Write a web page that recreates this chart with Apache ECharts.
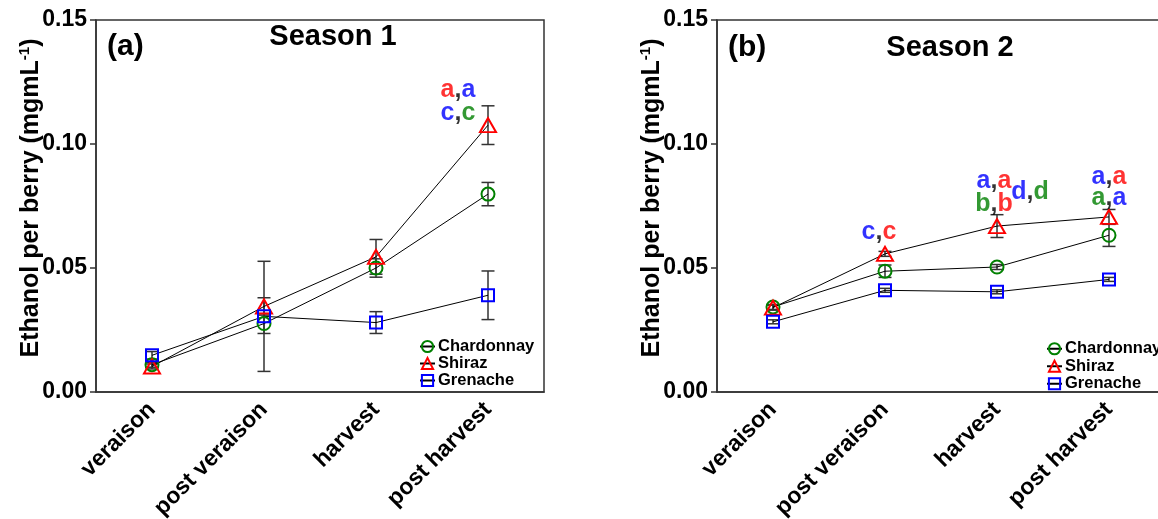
<!DOCTYPE html>
<html lang="en">
<head>
<meta charset="UTF-8">
<script src="https://cdn.jsdelivr.net/npm/echarts@6/dist/echarts.min.js"></script>
<style>
  html, body { margin: 0; padding: 0; background: #fff; }
  #chart { width: 1158px; height: 519px; }
</style>
</head>
<body>
<div id="chart"></div>
<script>
// ---- data ----
const stages = ['veraison', 'post veraison', 'harvest', 'post harvest'];
const varieties = ['Chardonnay', 'Shiraz', 'Grenache'];
const yTicks = [0, 0.05, 0.10, 0.15];

// Season 1 means and error bars (mg/mL)
const s1Chardonnay = [0.0110, 0.0276, 0.0500, 0.0798];
const s1Shiraz = [0.0103, 0.0345, 0.0545, 0.1076];
const s1Grenache = [0.0148, 0.0305, 0.0280, 0.0390];
const s1ChardonnayErr = [0.0010, 0.0040, 0.0037, 0.0047];
const s1ShirazErr = [0.0010, 0.0035, 0.0070, 0.0078];
const s1GrenacheErr = [0.0015, 0.0222, 0.0044, 0.0098];

// Season 2
const s2Chardonnay = [0.0343, 0.0487, 0.0504, 0.0632];
const s2Shiraz = [0.0340, 0.0557, 0.0669, 0.0706];
const s2Grenache = [0.0283, 0.0410, 0.0404, 0.0454];
const s2ChardonnayErr = [0.0010, 0.0025, 0.0010, 0.0045];
const s2ShirazErr = [0.0010, 0.0010, 0.0046, 0.0030];
const s2GrenacheErr = [0.0008, 0.0008, 0.0008, 0.0008];

// significance letters: stage, level, letters, colour keys
const s1NoteStage = ['post harvest', 'post harvest'];
const s1NoteLevel = [0.1219, 0.1124];
const s1NoteLetters = [['a', 'a'], ['c', 'c']];
const s1NoteColors = [['r', 'b'], ['b', 'g']];

const s2NoteStage = ['post veraison', 'harvest', 'harvest', 'harvest', 'post harvest', 'post harvest'];
const s2NoteLevel = [0.0646, 0.0849, 0.0757, 0.0804, 0.0866, 0.0782];
const s2NoteLetters = [['c', 'c'], ['a', 'a'], ['b', 'b'], ['d', 'd'], ['a', 'a'], ['a', 'a']];
const s2NoteColors = [['b', 'r'], ['b', 'r'], ['g', 'r'], ['b', 'g'], ['b', 'r'], ['g', 'b']];

// ---- styling ----
const FONT = '"Liberation Sans", Arial, sans-serif';
const AXIS_COLOR = '#333';
const COLORS = { Chardonnay: '#008000', Shiraz: '#ff0000', Grenache: '#0000ff' };
const SYMBOLS = { Chardonnay: 'circle', Shiraz: 'triangle', Grenache: 'rect' };
const SIZES = { Chardonnay: 13, Shiraz: [16, 14], Grenache: 12 };
const s1NoteDx = [-30, -30];
const s2NoteDx = [-6, -3, -3, 33, 0, 0];

const chart = echarts.init(document.getElementById('chart'));

function makeGrid(left, width) {
  return {
    left: left, width: width, top: 20, height: 372, outerBoundsMode: 'none',
    show: true, borderColor: AXIS_COLOR, borderWidth: 1.5, backgroundColor: 'transparent'
  };
}

function makeXAxis(idx) {
  return {
    type: 'category', gridIndex: idx, data: stages,
    axisLine: { lineStyle: { color: AXIS_COLOR, width: 1.5 } },
    axisTick: { alignWithLabel: true, length: 6, lineStyle: { color: AXIS_COLOR, width: 1.5 } },
    axisLabel: {
      rotate: 45, margin: 14, color: '#000', fontSize: 23, fontWeight: 'bold', fontFamily: FONT,
      interval: 0
    },
    splitLine: { show: false }
  };
}

function makeYAxis(idx, gap) {
  return {
    type: 'value', gridIndex: idx, min: 0, max: 0.15, interval: 0.05,
    name: 'Ethanol per berry (mgmL{sup|-1})',
    nameLocation: 'middle', nameGap: gap, nameMoveOverlap: false,
    nameTextStyle: {
      color: '#000', fontSize: 25, fontWeight: 'bold', fontFamily: FONT, lineHeight: 28,
      padding: [0, 0, 0, 16],
      rich: { sup: { fontSize: 15, fontWeight: 'bold', fontFamily: FONT, color: '#000', verticalAlign: 'top', lineHeight: 15 } }
    },
    axisLine: { show: true, lineStyle: { color: AXIS_COLOR, width: 1.5 } },
    axisTick: { show: true, length: 6, lineStyle: { color: AXIS_COLOR, width: 1.5 } },
    axisLabel: {
      margin: 9, color: '#000', fontSize: 23, fontWeight: 'bold', fontFamily: FONT,
      customValues: yTicks,
      formatter: v => v.toFixed(2)
    },
    splitLine: { show: false }
  };
}

function lineSeries(name, values, idx) {
  return {
    name: name, type: 'line', xAxisIndex: idx, yAxisIndex: idx, data: values,
    symbol: SYMBOLS[name], symbolSize: SIZES[name],
    lineStyle: { color: '#000', width: 1 },
    itemStyle: { color: 'rgba(255,255,255,0)', borderColor: COLORS[name], borderWidth: 2 },
    emphasis: { disabled: true }, silent: true, z: 4
  };
}

function errorSeries(idx, means, errs) {
  const data = [];
  means.forEach((arr, s) => arr.forEach((v, i) => data.push([i, v, errs[s][i]])));
  return {
    type: 'custom', xAxisIndex: idx, yAxisIndex: idx, data: data, silent: true, z: 3,
    encode: { x: 0, y: 1 },
    renderItem: (params, api) => {
      const i = api.value(0), v = api.value(1), e = api.value(2);
      const top = api.coord([i, v + e]);
      const bot = api.coord([i, v - e]);
      const hw = 6.5;
      const st = { stroke: '#333', lineWidth: 1.5 };
      return {
        type: 'group',
        children: [
          { type: 'line', shape: { x1: top[0], y1: top[1], x2: bot[0], y2: bot[1] }, style: st },
          { type: 'line', shape: { x1: top[0] - hw, y1: top[1], x2: top[0] + hw, y2: top[1] }, style: st },
          { type: 'line', shape: { x1: bot[0] - hw, y1: bot[1], x2: bot[0] + hw, y2: bot[1] }, style: st }
        ]
      };
    }
  };
}

const noteRich = {};
[['r', '#ff0000'], ['b', '#0000ff'], ['g', '#008000'], ['k', '#000']].forEach(([k, c]) => {
  noteRich[k] = { color: c, fontSize: 25, fontWeight: 'bold', fontFamily: FONT };
});

function noteSeries(idx, stagesArr, levels, letters, colors, dx) {
  return {
    type: 'scatter', xAxisIndex: idx, yAxisIndex: idx, symbolSize: 0, silent: true, z: 5,
    data: stagesArr.map((s, i) => ({
      value: [s, levels[i]],
      label: {
        show: true, position: 'inside', offset: [dx[i], 0],
        formatter: () => '{' + colors[i][0] + '|' + letters[i][0] + '}{k|,}{' + colors[i][1] + '|' + letters[i][1] + '}',
        rich: noteRich
      }
    }))
  };
}

function makeLegend(left, top, lineH) {
  return {
    data: varieties, orient: 'vertical', left: left, top: top,
    itemWidth: 15, itemHeight: 14, itemGap: 0, selectedMode: false,
    textStyle: { color: '#000', fontSize: 16.5, fontWeight: 'bold', fontFamily: FONT, lineHeight: lineH, padding: [0, 0, 0, -2] }
  };
}

function label(text, x, y, size, align) {
  return {
    type: 'text', x: x, y: y,
    style: { text: text, fill: '#000', font: 'bold ' + size + 'px ' + FONT, textAlign: align, textVerticalAlign: 'middle' }
  };
}

const option = {
  animation: false,
  grid: [makeGrid(96, 448), makeGrid(717, 448)],
  xAxis: [makeXAxis(0), makeXAxis(1)],
  yAxis: [makeYAxis(0, 51), makeYAxis(1, 51)],
  legend: [makeLegend(414, 333, 15.3), makeLegend(1041, 335, 17.5)],
  graphic: [
    label('(a)', 107, 47, 30, 'left'),
    label('Season 1', 333, 37, 29, 'center'),
    label('(b)', 728, 48, 30, 'left'),
    label('Season 2', 950, 48, 29, 'center')
  ],
  series: [
    errorSeries(0, [s1Chardonnay, s1Shiraz, s1Grenache], [s1ChardonnayErr, s1ShirazErr, s1GrenacheErr]),
    lineSeries('Chardonnay', s1Chardonnay, 0),
    lineSeries('Shiraz', s1Shiraz, 0),
    lineSeries('Grenache', s1Grenache, 0),
    noteSeries(0, s1NoteStage, s1NoteLevel, s1NoteLetters, s1NoteColors, s1NoteDx),
    errorSeries(1, [s2Chardonnay, s2Shiraz, s2Grenache], [s2ChardonnayErr, s2ShirazErr, s2GrenacheErr]),
    lineSeries('Chardonnay', s2Chardonnay, 1),
    lineSeries('Shiraz', s2Shiraz, 1),
    lineSeries('Grenache', s2Grenache, 1),
    noteSeries(1, s2NoteStage, s2NoteLevel, s2NoteLetters, s2NoteColors, s2NoteDx)
  ]
};
chart.setOption(option);
</script>
</body>
</html>
